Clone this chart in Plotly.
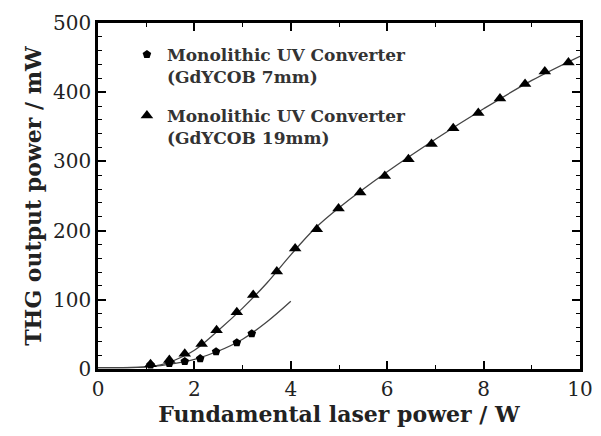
import plotly.graph_objects as go

# 19 mm crystal (triangles)
p19_x = [1.09, 1.48, 1.80, 2.15, 2.46, 2.88, 3.22, 3.71, 4.09, 4.54, 4.99, 5.44, 5.95, 6.44, 6.92, 7.37, 7.89, 8.34, 8.86, 9.27, 9.76]
p19_y = [7, 13, 22, 36, 56, 82, 107, 141, 174, 202, 232, 255, 279, 303, 325, 348, 370, 391, 412, 430, 443]
# 7 mm crystal
p7_x = [1.09, 1.48, 1.80, 2.12, 2.45, 2.88, 3.19]
p7_y = [6, 8, 11, 15, 25, 38, 51]

# fitted curves
fit19_x = [0, 0.5, 1.0, 1.3, 1.6, 2.0, 2.5, 3.0, 3.5, 4.0, 4.5, 5.0, 6.0, 7.0, 8.0, 9.0, 10.0]
fit19_y = [2, 2, 3, 6, 13, 27, 56, 88, 124, 165, 203, 233, 285, 332, 376, 417, 452]
fit7_x = [0, 0.5, 1.0, 1.3, 1.6, 2.0, 2.5, 3.0, 3.5, 4.0]
fit7_y = [2, 2, 3, 5, 8, 14, 26, 43, 68, 98]

names = ["Monolithic UV Converter<br>(GdYCOB 7mm)", "Monolithic UV Converter<br>(GdYCOB 19mm)"]

serif = "DejaVu Serif"
ink = "black"

fig = go.Figure()
fig.add_trace(go.Scatter(x=fit19_x, y=fit19_y, mode="lines", line=dict(color="#444", width=1.3, shape="spline"), showlegend=False))
fig.add_trace(go.Scatter(x=fit7_x, y=fit7_y, mode="lines", line=dict(color="#444", width=1.3, shape="spline"), showlegend=False))
fig.add_trace(go.Scatter(x=p7_x, y=p7_y, mode="markers", marker=dict(symbol="pentagon", size=9, color=ink),
                         legendgroup="g7",
                         name="<b>" + names[0].replace("<br>", "</b><br><b>") + "</b>"))
fig.add_trace(go.Scatter(x=p19_x, y=p19_y, mode="markers", marker=dict(symbol="triangle-up", size=11, color=ink),
                         legendgroup="g19",
                         name="<b>" + names[1].replace("<br>", "</b><br><b>") + "</b>"))

def axis(rng, dtick, mdtick, title, standoff):
    return dict(range=rng, dtick=dtick, tick0=0, showline=True, linecolor=ink, linewidth=2.5, mirror="ticks",
                ticks="inside", ticklen=8, tickwidth=1.5, tickcolor=ink,
                minor=dict(ticks="inside", ticklen=4, tickwidth=1.2, tickcolor=ink, dtick=mdtick),
                showgrid=False, zeroline=False,
                tickfont=dict(family=serif, size=20, color="#222"),
                title=dict(text="<b>" + title + "</b>", font=dict(family=serif, size=22, color="#222"), standoff=standoff))

fig.update_layout(template="none", width=601, height=436, margin=dict(l=98, r=21, t=23, b=67),
                  plot_bgcolor="white", paper_bgcolor="white",
                  xaxis=axis([0, 10], 2, 1, "Fundamental laser power / W", 6),
                  yaxis=axis([0, 500], 100, 20, "THG output power / mW", 6),
                  legend=dict(x=0.06, y=0.96, xanchor="left", yanchor="top", bgcolor="rgba(0,0,0,0)",
                              font=dict(family=serif, size=17, color="#333"),
                              tracegroupgap=14, valign="top", itemwidth=30))
fig.write_html("out.html")
